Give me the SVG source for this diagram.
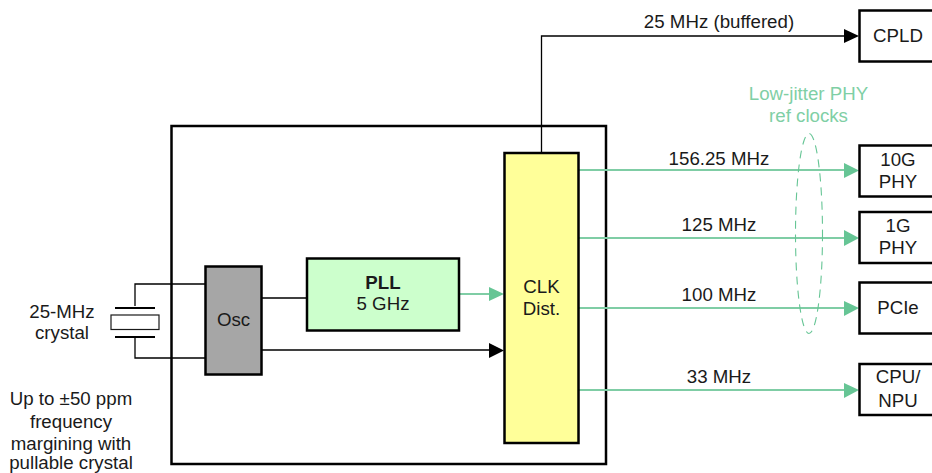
<svg xmlns="http://www.w3.org/2000/svg" width="932" height="473" viewBox="0 0 932 473">
<style>
text{font-family:"Liberation Sans",Arial,sans-serif;font-size:18.700px;fill:#1a1a1a;text-anchor:middle}
.b{fill:#fff;stroke:#000;stroke-width:2.500}
.k{fill:none;stroke:#000;stroke-width:1.300}
.g{fill:none;stroke:#7fcda5;stroke-width:1.800}
.ah{fill:#000;stroke:none}
.gh{fill:#66c595;stroke:none}
</style>
<g id="enclosure"><rect class="b" x="171.500" y="126" width="434.500" height="338"/></g>
<g id="connectors">
<path class="k" d="M205 284H135V306M205 358H135V336M261.500 298H307M261.500 350H490"/>
<path class="k" d="M541.500 153V36H844"/>
<path class="g" d="M460 294H490M579 170H844M579 238H844M579 308H844M579 390H844"/>
<polygon class="ah" points="844,29 859,36 844,43"/>
<polygon class="ah" points="489,343 504,350.500 489,358"/>
<polygon class="gh" points="489,287 504,294 489,301"/>
<polygon class="gh" points="844,163 859,170.500 844,178"/>
<polygon class="gh" points="844,230 859,238 844,246"/>
<polygon class="gh" points="844,301 859,308 844,316"/>
<polygon class="gh" points="844,383 859,390 844,398"/>
</g>
<g id="crystal">
<path fill="none" stroke="#000" stroke-width="1.800" d="M115 308H155M115 337H155"/>
<rect x="111" y="315" width="48" height="14.500" fill="#fff" stroke="#1a1a1a" stroke-width="1.200"/>
<text x="62" y="318">25-MHz</text><text x="62" y="339">crystal</text>
</g>
<g id="note"><text x="71" y="405">Up to ±50 ppm</text><text x="71" y="428">frequency</text><text x="71" y="450">margining with</text><text x="71" y="469">pullable crystal</text></g>
<g id="osc"><rect x="205.500" y="266.500" width="56" height="108" fill="#a6a6a6" stroke="#000" stroke-width="2.500"/><text x="233.500" y="326">Osc</text></g>
<g id="pll"><rect x="307" y="258.500" width="152" height="72" fill="#ccffcc" stroke="#000" stroke-width="2.500"/><text x="383" y="289" style="font-weight:700">PLL</text><text x="383" y="310">5 GHz</text></g>
<g id="clk"><rect x="504.500" y="153" width="74" height="290" fill="#ffff99" stroke="#000" stroke-width="2.500"/><text x="541.500" y="293">CLK</text><text x="541.500" y="315">Dist.</text></g>
<g id="cpld"><rect class="b" x="859.500" y="10.500" width="76" height="51"/><text x="898" y="42">CPLD</text></g>
<g id="phy10g"><rect class="b" x="859.500" y="145.500" width="76" height="51"/><text x="898" y="166">10G</text><text x="898" y="188">PHY</text></g>
<g id="phy1g"><rect class="b" x="859.500" y="212" width="76" height="51"/><text x="898" y="232">1G</text><text x="898" y="254">PHY</text></g>
<g id="pcie"><rect class="b" x="859.500" y="282.500" width="76" height="51"/><text x="898" y="314">PCIe</text></g>
<g id="cpu"><rect class="b" x="859.500" y="364" width="76" height="51"/><text x="898" y="383">CPU/</text><text x="898" y="407">NPU</text></g>
<g id="labels">
<text x="719" y="28">25 MHz (buffered)</text>
<text x="719" y="165">156.25 MHz</text>
<text x="719" y="231">125 MHz</text>
<text x="719" y="301">100 MHz</text>
<text x="719" y="383">33 MHz</text>
</g>
<g id="phy-group">
<ellipse cx="809" cy="233.500" rx="13.500" ry="100" fill="none" stroke="#66c595" stroke-width="1.100" stroke-dasharray="8 6"/>
<text x="808.500" y="100" style="fill:#7fcfa5">Low-jitter PHY</text><text x="808.500" y="122" style="fill:#7fcfa5">ref clocks</text>
</g>
</svg>
